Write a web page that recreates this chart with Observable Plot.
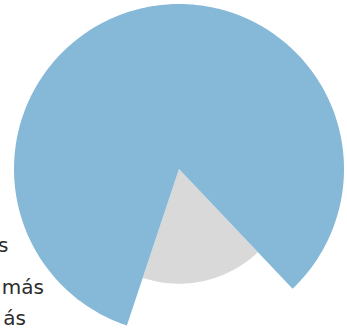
<!DOCTYPE html>
<html>
<head>
<meta charset="utf-8">
<script src="https://cdn.jsdelivr.net/npm/d3@7"></script>
<script src="https://cdn.jsdelivr.net/npm/@observablehq/plot@0.6"></script>
<style>
  html, body { margin: 0; padding: 0; background: #fff; }
</style>
</head>
<body>
<div id="chart"></div>
<script>
// Data
const categories = ["Otros", "Principal"];
const shares = [17.2, 82.8];          // percent of the pie
const relRadius = [0.695, 1];         // relative radius of each slice
const colors = ["#d9d9d9", "#86b9d7"];
const labels = ["s", "más", "ás"];     // visible (clipped) label fragments

// Layout
const W = 347, H = 329;
const cx = 178.5, cy = 168.5;   // pie centre in pixels
const R = 165;                  // outer radius in pixels
const startDeg = 136.5;         // start angle, clockwise from 12 o'clock

const total = d3.sum(shares);
const slices = [];
let a = startDeg;
shares.forEach((v, i) => {
  const span = v / total * 360;
  const a0 = a, a1 = a + span;
  const r = relRadius[i] * R;
  const pts = [{key: categories[i], x: 0, y: 0}];
  const n = Math.max(2, Math.ceil(span));
  for (let k = 0; k <= n; k++) {
    const t = (a0 + (a1 - a0) * k / n) * Math.PI / 180;
    pts.push({key: categories[i], x: r * Math.sin(t), y: r * Math.cos(t)});
  }
  pts.push({key: categories[i], x: 0, y: 0});
  slices.push({pts, color: colors[i]});
  a = a1;
});

const labelPos = [
  {text: labels[0], x: 8 - cx, y: cy - 245.5},
  {text: labels[1], x: 43.5 - cx, y: cy - 287.5},
  {text: labels[2], x: 25.5 - cx, y: cy - 318}
];

const chart = Plot.plot({
  width: W,
  height: H,
  margin: 0,
  x: {domain: [-cx, W - cx], axis: null},
  y: {domain: [cy - H, cy], axis: null},
  style: {fontFamily: "'DejaVu Sans', sans-serif", background: "#fff"},
  marks: [
    Plot.text(labelPos, {x: "x", y: "y", text: "text", textAnchor: "end", fontSize: 20, fill: "#2b2b2b"}),
    ...slices.map(s => Plot.line(s.pts, {x: "x", y: "y", z: "key", fill: s.color, stroke: "none", curve: "linear"}))
  ]
});
document.getElementById("chart").appendChild(chart);
</script>
</body>
</html>
